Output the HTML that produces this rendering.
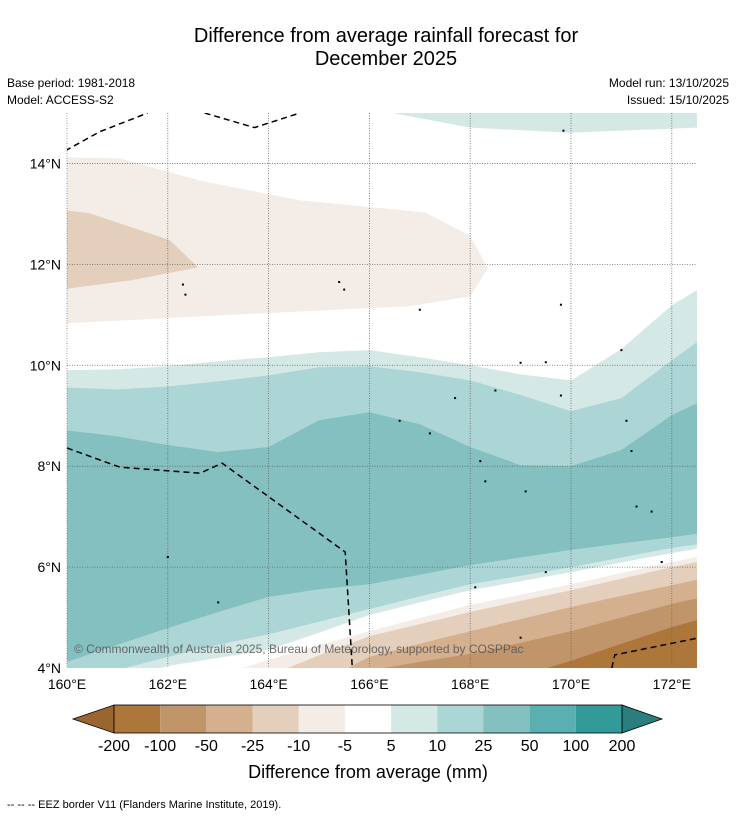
<!DOCTYPE html>
<html><head><meta charset="utf-8">
<style>
body{margin:0;background:#fff;font-family:"Liberation Sans","DejaVu Sans",sans-serif;}
svg{display:block}
</style></head>
<body>
<svg id="chart" width="736" height="816" viewBox="0 0 736 816" xmlns="http://www.w3.org/2000/svg" font-family="Liberation Sans, DejaVu Sans, sans-serif">
  <rect x="0" y="0" width="736" height="816" fill="#fff"/>
  <text x="386" y="42" font-size="20" text-anchor="middle">Difference from average rainfall forecast for</text>
  <text x="386" y="65" font-size="20" text-anchor="middle">December 2025</text>
  <text x="7" y="87" font-size="12">Base period: 1981-2018</text>
  <text x="7" y="104" font-size="12">Model: ACCESS-S2</text>
  <text x="729" y="87" font-size="12" text-anchor="end">Model run: 13/10/2025</text>
  <text x="729" y="104" font-size="12" text-anchor="end">Issued: 15/10/2025</text>
  <defs><clipPath id="mapclip"><rect x="67" y="113" width="630" height="555"/></clipPath></defs>
  <g id="map" clip-path="url(#mapclip)"></g>
  <g id="grid"></g>
  <g id="overlay" clip-path="url(#mapclip)"></g>
  <text x="74" y="653" font-size="12" fill="#555" fill-opacity="0.85">© Commonwealth of Australia 2025, Bureau of Meteorology, supported by COSPPac</text>
  <g id="axes"></g>
  <g id="cbar"></g>
  <text x="368" y="778" font-size="18" text-anchor="middle">Difference from average (mm)</text>
  <text x="7" y="808" font-size="11">--  --  -- EEZ border V11 (Flanders Marine Institute, 2019).</text>
</svg>
<script>
// ---- data ----
const lonGrid = [160,161,162,163,164,165,166,167,168,169,170,171,172,172.5];
const xTicks = [160,162,164,166,168,170,172];
const yTicks = [4,6,8,10,12,14];
const latTeal5Top  = [9.90,9.92,9.98,10.08,10.16,10.26,10.30,10.16,10.00,9.82,9.70,10.32,11.19,11.49];
const latTeal10Top = [9.56,9.52,9.58,9.68,9.80,9.96,9.98,9.86,9.70,9.41,9.09,9.35,10.10,10.46];
const latTeal25Top = [8.71,8.59,8.42,8.28,8.38,8.91,9.07,8.83,8.38,8.02,8.00,8.32,9.01,9.25];
const latTeal25Bot = [4.12,4.46,4.79,5.11,5.41,5.56,5.66,5.85,6.04,6.19,6.34,6.47,6.59,6.66];
const latTeal10Bot = [3.56,3.96,4.22,4.46,4.67,4.92,5.17,5.42,5.66,5.83,6.00,6.19,6.38,6.45];
const latTeal5Bot  = [3.37,3.76,4.04,4.20,4.36,4.70,5.05,5.30,5.54,5.72,5.90,6.09,6.28,6.36];
const latWhiteBot  = [2.97,3.27,3.56,3.85,4.16,4.45,4.73,4.99,5.25,5.45,5.66,5.88,6.10,6.20];
const latBrown5Bot = [2.57,2.87,3.17,3.50,3.85,4.25,4.63,4.87,5.11,5.33,5.54,5.77,6.00,6.10];
const latBrown10Bot= [2.0,2.0,2.0,2.5,3.0,3.7,4.22,4.48,4.73,4.97,5.21,5.43,5.64,5.75];
const latBrown25Bot= [1.5,1.5,1.5,2.0,2.8,3.4,3.95,4.12,4.28,4.50,4.73,5.00,5.27,5.38];
const latBrown50Bot= [1.0,1.0,1.0,1.0,1.5,2.0,2.5,3.0,3.5,3.85,4.14,4.48,4.81,4.95];
const polyTopTeal = [[166.51,15.2],[166.51,14.99],[168.0,14.71],[169.98,14.61],[172.5,14.71],[172.5,15.2]];
const polyBrown5 = [[160,14.12],[161.05,14.10],[162.64,13.66],[164.62,13.27],[167.10,13.03],[168.0,12.57],[168.35,11.92],[168.0,11.37],[166.8,11.17],[162.64,10.97],[160,10.83]];
const polyBrown10 = [[160,13.07],[160.46,13.01],[162.04,12.48],[162.6,11.94],[161.25,11.68],[160,11.52]];
const eezTop1 = [[159.8,14.4],[160,14.27],[160.65,14.63],[161.6,15.0]];
const eezTop2 = [[162.73,15.0],[163.72,14.71],[164.62,15.0]];
const eezLeft = [[160,8.36],[161.05,7.98],[162.64,7.86],[163.08,8.06],[165.52,6.30],[165.66,4.0]];
const eezRight = [[170.81,4.0],[170.87,4.26],[172.5,4.59]];
const islands = [[162.3,11.6],[162.35,11.4],[165.4,11.65],[165.5,11.5],[169.8,11.2],[167.0,11.1],[169.0,10.05],[169.5,10.06],[168.5,9.5],[167.7,9.35],[166.6,8.9],[167.2,8.65],[169.8,9.4],[171.0,10.3],[171.1,8.9],[171.2,8.3],[171.3,7.2],[171.6,7.1],[168.2,8.1],[168.3,7.7],[169.1,7.5],[162.0,6.2],[163.0,5.3],[169.5,5.9],[168.1,5.6],[169.0,4.6],[171.8,6.1],[169.85,14.65]];
const cbarLabels = ["-200","-100","-50","-25","-10","-5","5","10","25","50","100","200"];
const cbarColors = ["#AD763A","#C0956A","#D4B08E","#E3CFBB","#F4ECE6","#FFFFFF","#D4E8E6","#ACD5D5","#84C0C0","#5AAFB0","#329A99"];
const cbarEndLow = "#9A6630", cbarEndHigh = "#2A7F7E";

// ---- axes ----
const X0=67, X1=697, LON0=160, LON1=172.5;
const Y0=668, Y1=113, LAT0=4, LAT1=15;
const xs = lon => X0 + (lon-LON0)/(LON1-LON0)*(X1-X0);
const ys = lat => Y0 - (lat-LAT0)/(LAT1-LAT0)*(Y0-Y1);
const NS="http://www.w3.org/2000/svg";
function mk(tag, attrs, parent){const e=document.createElementNS(NS,tag);for(const k in attrs)e.setAttribute(k,attrs[k]);parent.appendChild(e);return e;}
const map=document.getElementById('map');

function ptsStr(arr){return arr.map(p=>xs(p[0]).toFixed(1)+','+ys(p[1]).toFixed(1)).join(' ');}
function fillBelow(lats,color,name){
  const pts=lonGrid.map((l,i)=>[l,lats[i]]);
  pts.push([LON1,LAT0-3]);pts.push([LON0,LAT0-3]);
  const e=mk('polygon',{points:ptsStr(pts),fill:color},map);
  
  
}
function poly(arr,color,name){
  const e=mk('polygon',{points:ptsStr(arr),fill:color},map);
  
  
}
poly(polyTopTeal,cbarColors[6],'contour-top-5-10');
poly(polyBrown5,cbarColors[4],'contour-north-minus5-minus10');
poly(polyBrown10,cbarColors[3],'contour-north-minus10-minus25');
const midGroup=[[latTeal5Top,6],[latTeal10Top,7],[latTeal25Top,8],
 [latTeal25Bot,7],[latTeal10Bot,6],[latTeal5Bot,5],[latWhiteBot,4],
 [latBrown5Bot,3],[latBrown10Bot,2],[latBrown25Bot,1],[latBrown50Bot,0]];
midGroup.forEach(g=>fillBelow(g[0],cbarColors[g[1]],'contour-band-'+cbarLabels[g[1]]));

const grid=document.getElementById('grid');
xTicks.forEach(l=>{ if(l===160) return;
  const e=mk('line',{x1:xs(l),x2:xs(l),y1:Y1,y2:Y0,stroke:'#666','stroke-width':0.8,'stroke-dasharray':'1,1.5'},grid);
  
  
});
yTicks.forEach(l=>{ if(l===4) return;
  const e=mk('line',{x1:X0,x2:X1,y1:ys(l),y2:ys(l),stroke:'#666','stroke-width':0.8,'stroke-dasharray':'1,1.5'},grid);
  
  
});
const lb=mk('line',{x1:X0,x2:X0,y1:Y1,y2:Y0,stroke:'#777','stroke-width':0.8,'stroke-dasharray':'1,1.5'},grid);



const ov=document.getElementById('overlay');
[eezTop1,eezTop2,eezLeft,eezRight].forEach(a=>{
  const e=mk('polyline',{points:ptsStr(a),fill:'none',stroke:'#000','stroke-width':1.5,'stroke-dasharray':'6,4'},ov);
  
  
});
islands.forEach(p=>{
  const e=mk('rect',{x:xs(p[0])-1,y:ys(p[1])-1,width:2,height:2,fill:'#000'},ov);
  
  
});

const axes=document.getElementById('axes');
xTicks.forEach(l=>{
  const t=mk('text',{x:xs(l),y:689,'font-size':14,'text-anchor':'middle'},axes);
  t.textContent=l+'°E';
  
  
});
yTicks.forEach(l=>{
  const t=mk('text',{x:61,y:ys(l)+5,'font-size':14,'text-anchor':'end'},axes);
  t.textContent=l+'°N';
  
  
});

const cb=document.getElementById('cbar');
const CB0=114, CB1=622, CBY=705, CBH=28, CW=(CB1-CB0)/cbarColors.length;
const tl=mk('polygon',{points:`73,${CBY+CBH/2} ${CB0},${CBY} ${CB0},${CBY+CBH}`,fill:cbarEndLow,stroke:'#000','stroke-width':0.8},cb);


const th=mk('polygon',{points:`662,${CBY+CBH/2} ${CB1},${CBY} ${CB1},${CBY+CBH}`,fill:cbarEndHigh,stroke:'#000','stroke-width':0.8},cb);


cbarColors.forEach((c,i)=>{
  const r=mk('rect',{x:CB0+i*CW,y:CBY,width:CW,height:CBH,fill:c},cb);
  
  
});
const fr=mk('rect',{x:CB0,y:CBY,width:CB1-CB0,height:CBH,fill:'none',stroke:'#000','stroke-width':0.8},cb);


cbarLabels.forEach((s,i)=>{
  const t=mk('text',{x:CB0+i*CW,y:751,'font-size':16,'text-anchor':'middle'},cb);
  t.textContent=s;
  
  
});
</script>
</body></html>
